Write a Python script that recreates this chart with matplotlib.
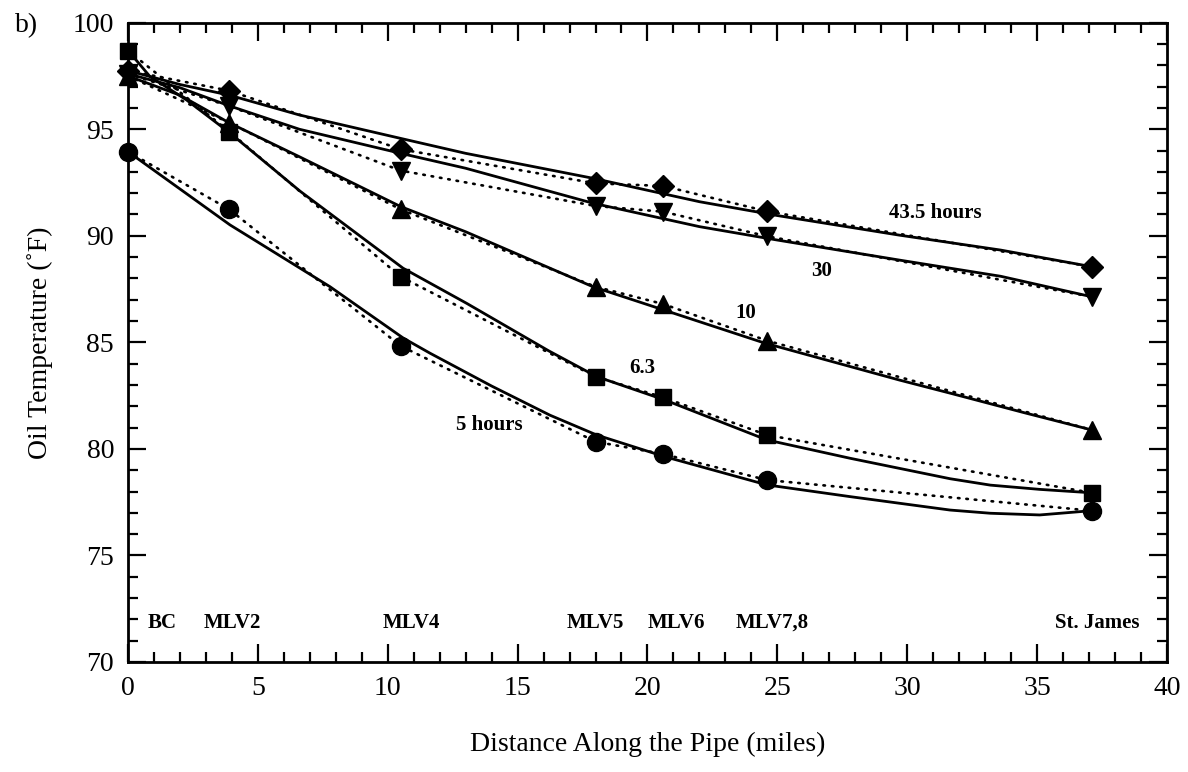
import numpy as np
import matplotlib
matplotlib.use("Agg")
import matplotlib.pyplot as plt
from matplotlib.ticker import MultipleLocator

plt.rcParams['font.family'] = ['Liberation Serif', 'DejaVu Serif']

# measured points at the valve stations
stations = [0, 3.9, 10.5, 18.0, 20.6, 24.6, 37.1]
meas_43 = [97.75, 96.81, 94.06, 92.46, 92.34, 91.15, 88.55]
meas_30 = [97.6, 96.09, 93.06, 91.40, 91.13, 89.98, 87.14]
meas_10 = [97.5, 95.31, 91.24, 87.61, 86.80, 85.08, 80.89]
meas_63 = [98.69, 94.89, 88.08, 83.39, 82.42, 80.65, 77.94]
meas_5 = [93.95, 91.24, 84.83, 80.34, 79.76, 78.54, 77.10]

# model curves
mod_43_x = [0, 2, 3.9, 6.6, 10.5, 13.0, 17.9, 22.0, 25.0, 29.7, 33.6, 37.1]
mod_43_y = [97.75, 97.1, 96.6, 95.67, 94.57, 93.87, 92.7, 91.6, 90.95, 90.03, 89.33, 88.55]
mod_30_x = [0, 2, 3.9, 6.6, 10.5, 13.0, 17.9, 22.0, 25.0, 29.7, 33.6, 37.1]
mod_30_y = [97.6, 96.95, 96.1, 95.0, 93.87, 93.17, 91.53, 90.43, 89.8, 88.86, 88.1, 87.14]
mod_10_x = [0, 2, 3.9, 6.6, 10.5, 13.0, 17.9, 22.0, 24.5, 29.7, 31.7, 34.5, 37.1]
mod_10_y = [97.5, 96.6, 95.3, 93.71, 91.37, 90.19, 87.61, 85.97, 84.97, 83.23, 82.6, 81.7, 80.89]
mod_63_x = [0, 0.85, 2.26, 3.93, 6.62, 10.59, 13.04, 16.2, 18.05, 20.68, 24.6, 27.8, 31.65, 33.2, 35.1, 37.1]
mod_63_y = [98.7, 97.47, 96.37, 94.82, 92.1, 88.48, 86.83, 84.6, 83.39, 82.29, 80.42, 79.56, 78.6, 78.3, 78.1, 77.94]
mod_5_x = [0, 3.93, 7.78, 10.6, 11.63, 14.0, 16.25, 18.05, 20.68, 24.6, 27.8, 31.65, 33.2, 35.1, 37.1]
mod_5_y = [93.95, 90.51, 87.61, 85.2, 84.49, 82.95, 81.58, 80.65, 79.63, 78.31, 77.76, 77.13, 76.98, 76.9, 77.1]

station_names = ["BC", "MLV2", "MLV4", "MLV5", "MLV6", "MLV7,8", "St. James"]
station_label_x = [1.3, 4.0, 10.9, 18.0, 21.1, 24.8, 37.3]

curve_names = ["43.5 hours", "30", "10", "6.3", "5 hours"]
curve_label_x = [31.1, 26.7, 23.8, 19.8, 13.9]
curve_label_y = [91.07, 88.35, 86.39, 83.78, 81.12]

fig = plt.figure(figsize=(11.88, 7.72), dpi=100)
ax = fig.add_axes([0.1077, 0.1425, 0.8746, 0.8281])

series = [
    (mod_43_x, mod_43_y, meas_43, 'D', 11),
    (mod_30_x, mod_30_y, meas_30, 'v', 13),
    (mod_10_x, mod_10_y, meas_10, '^', 13),
    (mod_63_x, mod_63_y, meas_63, 's', 11),
    (mod_5_x, mod_5_y, meas_5, 'o', 13),
]
for mx, my, meas, mk, ms in series:
    ax.plot(mx, my, color='black', lw=2.0, solid_joinstyle='round')
    ax.plot(stations, meas, color='black', lw=1.9, linestyle=(0, (0.6, 2.6)),
            dash_capstyle='round')
    ax.plot(stations, meas, linestyle='none', marker=mk, ms=ms, color='black',
            clip_on=False)

for name, x, y in zip(curve_names, curve_label_x, curve_label_y):
    ax.text(x, y, name, ha='center', va='center', fontsize=15, fontweight='bold')

for name, x in zip(station_names, station_label_x):
    ax.text(x, 71.85, name, ha='center', va='center', fontsize=15, fontweight='bold')

ax.set_xlim(0, 40)
ax.set_ylim(70, 100)
ax.xaxis.set_major_locator(MultipleLocator(5))
ax.xaxis.set_minor_locator(MultipleLocator(1))
ax.yaxis.set_major_locator(MultipleLocator(5))
ax.yaxis.set_minor_locator(MultipleLocator(1))
ax.tick_params(which='both', direction='in', top=True, right=True, width=1.6,
               labelsize=20, pad=10)
ax.tick_params(which='major', length=13)
ax.tick_params(which='minor', length=7)
for sp in ax.spines.values():
    sp.set_linewidth(2.0)

ax.set_xlabel("Distance Along the Pipe (miles)", fontsize=20, labelpad=22)
ax.set_ylabel("Oil Temperature (˚F)", fontsize=20, labelpad=14)
fig.text(0.013, 0.967, "b)", fontsize=20, ha='left', va='center')

fig.savefig("out.png", dpi=100)
